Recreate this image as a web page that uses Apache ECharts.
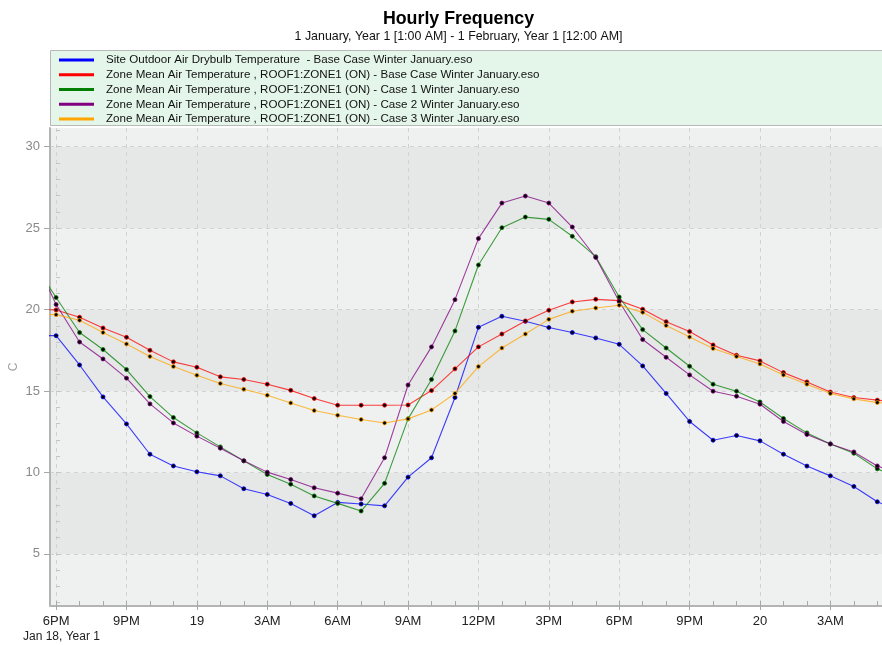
<!DOCTYPE html>
<html>
<head>
<meta charset="utf-8">
<script src="https://cdn.jsdelivr.net/npm/echarts@6/dist/echarts.min.js"></script>
<style>
  html, body { margin: 0; padding: 0; background: #ffffff; }
  #chart { width: 882px; height: 645px; }
</style>
</head>
<body>
<div id="chart"></div>
<script>
// Hours counted from 6PM on Jan 18 (one point before and after the visible window)
const hours = [-1, 0, 1, 2, 3, 4, 5, 6, 7, 8, 9, 10, 11, 12, 13, 14, 15, 16, 17, 18,
  19, 20, 21, 22, 23, 24, 25, 26, 27, 28, 29, 30, 31, 32, 33, 34, 35, 36];

// Labels of the 3-hourly major ticks, starting at 6PM Jan 18
const tickLabels = ['6PM', '9PM', '19', '3AM', '6AM', '9AM', '12PM', '3PM', '6PM', '9PM', '20', '3AM'];

// Temperature ticks (major, labelled) and minor ticks, in °C
const yTicks = [5, 10, 15, 20, 25, 30];
const yMinorTicks = [2, 3, 4, 5, 6, 7, 8, 9, 10, 11, 12, 13, 14, 15, 16, 17, 18, 19, 20,
  21, 22, 23, 24, 25, 26, 27, 28, 29, 30, 31];

const seriesNames = [
  'Site Outdoor Air Drybulb Temperature  - Base Case Winter January.eso',
  'Zone Mean Air Temperature , ROOF1:ZONE1 (ON) - Base Case Winter January.eso',
  'Zone Mean Air Temperature , ROOF1:ZONE1 (ON) - Case 1 Winter January.eso',
  'Zone Mean Air Temperature , ROOF1:ZONE1 (ON) - Case 2 Winter January.eso',
  'Zone Mean Air Temperature , ROOF1:ZONE1 (ON) - Case 3 Winter January.eso'
];

const outdoorDrybulb = [18.4, 18.40, 16.60, 14.64, 12.98, 11.12, 10.40, 10.04, 9.79, 9.00, 8.65, 8.10,
  7.34, 8.16, 8.06, 7.95, 9.71, 10.90, 14.60, 18.91, 19.59, 19.28, 18.90, 18.59, 18.26, 17.87,
  16.54, 14.85, 13.13, 11.98, 12.27, 11.94, 11.12, 10.39, 9.79, 9.14, 8.20, 7.6];

const zoneBaseCase = [20.0, 19.98, 19.53, 18.87, 18.30, 17.50, 16.79, 16.46, 15.87, 15.71, 15.42, 15.04,
  14.54, 14.13, 14.13, 14.13, 14.14, 15.03, 16.36, 17.71, 18.50, 19.30, 19.96, 20.47, 20.63, 20.55,
  20.02, 19.26, 18.65, 17.83, 17.20, 16.85, 16.13, 15.56, 14.94, 14.60, 14.44, 14.3];

const zoneCase1 = [23.0, 20.74, 18.59, 17.55, 16.32, 14.66, 13.37, 12.43, 11.57, 10.71, 9.88, 9.28,
  8.56, 8.10, 7.63, 9.33, 13.29, 15.71, 18.69, 22.74, 25.03, 25.68, 25.54, 24.50, 23.25, 20.77,
  18.77, 17.64, 16.52, 15.42, 14.99, 14.33, 13.31, 12.43, 11.75, 11.18, 10.22, 9.6];

const zoneCase2 = [23.4, 20.31, 18.01, 16.97, 15.79, 14.21, 13.04, 12.23, 11.49, 10.72, 10.02, 9.57,
  9.06, 8.73, 8.38, 10.90, 15.37, 17.71, 20.61, 24.36, 26.54, 26.97, 26.54, 25.07, 23.20, 20.50,
  18.16, 17.07, 15.99, 14.99, 14.68, 14.19, 13.13, 12.33, 11.75, 11.26, 10.40, 9.9];

const zoneCase3 = [19.7, 19.69, 19.34, 18.59, 17.89, 17.12, 16.50, 15.97, 15.46, 15.11, 14.74, 14.27,
  13.80, 13.51, 13.25, 13.04, 13.29, 13.84, 14.85, 16.50, 17.64, 18.50, 19.40, 19.90, 20.10, 20.27,
  19.83, 19.02, 18.32, 17.61, 17.12, 16.66, 15.99, 15.42, 14.85, 14.52, 14.29, 14.2];

const seriesValues = [outdoorDrybulb, zoneBaseCase, zoneCase1, zoneCase2, zoneCase3];
const seriesColors = ['#0000ff', '#ff0000', '#008000', '#800080', '#ffa500'];

const X_MIN = -0.26, X_MAX = 35.2;
const Y_MIN = 1.8, Y_MAX = 31.15;
const FONT = '"Liberation Sans", Arial, sans-serif';

// Major tick positions (every 3 h) and hourly minor ticks inside the window
const xMajorTicks = tickLabels.map((_, k) => k * 3);
const xMinorTicks = hours.filter((h) => h >= X_MIN && h <= X_MAX);

const chart = echarts.init(document.getElementById('chart'), null, { renderer: 'canvas' });

const series = seriesNames.map((name, i) => ({
  name: name,
  type: 'line',
  xAxisIndex: 0,
  yAxisIndex: 0,
  data: hours.map((h, k) => [h, seriesValues[i][k]]),
  symbol: 'circle',
  symbolSize: 4,
  clip: true,
  lineStyle: { color: seriesColors[i], width: 1.1, opacity: 0.75 },
  itemStyle: { color: '#000000', borderColor: seriesColors[i], borderWidth: 0.8 },
  emphasis: { disabled: true },
  z: 2
}));

chart.setOption({
  animation: false,
  backgroundColor: '#ffffff',
  textStyle: { fontFamily: FONT },
  grid: {
    left: 50, right: 0, top: 128, bottom: 39, containLabel: false, outerBoundsMode: 'none',
    show: true, backgroundColor: '#eff0f0', borderWidth: 0
  },
  legend: {
    orient: 'vertical',
    left: 59,
    top: 52.5,
    icon: 'rect',
    itemWidth: 35,
    itemHeight: 3,
    itemGap: 0,
    padding: 0,
    z: 10,
    selectedMode: false,
    textStyle: { fontFamily: FONT, fontSize: 11.6, color: '#111111', lineHeight: 14.8, padding: [0, 0, 0, 7] },
    data: seriesNames.map((n, i) => ({ name: n, itemStyle: { color: seriesColors[i], borderWidth: 0 } }))
  },
  graphic: [
    {
      type: 'rect', z: 5,
      shape: { x: 50.5, y: 50.5, width: 840, height: 75 },
      style: { fill: '#e4f5ea', stroke: '#b8b8b8', lineWidth: 1 }
    },
    {
      type: 'text', z: 5, x: 458.5, y: 19,
      style: { text: 'Hourly Frequency', font: 'bold 17.8px ' + FONT, fill: '#000000', align: 'center', verticalAlign: 'middle' }
    },
    {
      type: 'text', z: 5, x: 458.5, y: 37,
      style: { text: '1 January, Year 1 [1:00 AM] - 1 February, Year 1 [12:00 AM]', font: '12.4px ' + FONT, fill: '#111111', align: 'center', verticalAlign: 'middle' }
    },
    {
      type: 'text', z: 5, x: 23, y: 637,
      style: { text: 'Jan 18, Year 1', font: '12px ' + FONT, fill: '#222222', align: 'left', verticalAlign: 'middle' }
    }
  ],
  xAxis: [
    {
      type: 'value', min: X_MIN, max: X_MAX,
      axisLine: { show: true, onZero: false, lineStyle: { color: '#b4b4b4', width: 2 } },
      axisTick: { show: true, inside: false, length: 4, customValues: xMajorTicks, lineStyle: { color: '#a8a8a8' } },
      axisLabel: {
        show: true, margin: 9, fontSize: 13, color: '#222222', fontFamily: FONT,
        customValues: xMajorTicks,
        formatter: (v) => tickLabels[Math.round(v / 3)] || ''
      },
      splitLine: { show: true, lineStyle: { color: '#d2d2d2', type: [4, 4], width: 1 } }
    },
    {
      type: 'value', min: X_MIN, max: X_MAX, position: 'bottom',
      axisLine: { show: false },
      axisTick: { show: true, inside: true, length: 5, customValues: xMinorTicks, lineStyle: { color: '#a8a8a8' } },
      axisLabel: { show: false },
      splitLine: { show: false }
    }
  ],
  yAxis: [
    {
      type: 'value', min: Y_MIN, max: Y_MAX,
      name: 'C', nameLocation: 'middle', nameGap: 30, nameRotate: 90, nameMoveOverlap: false,
      nameTextStyle: { color: '#a0a0a0', fontSize: 12, fontFamily: FONT },
      axisLine: { show: true, onZero: false, lineStyle: { color: '#b4b4b4', width: 2 } },
      axisTick: { show: true, inside: false, length: 6, customValues: yTicks, lineStyle: { color: '#a8a8a8' } },
      axisLabel: {
        show: true, margin: 10, fontSize: 13, color: '#8a8a8a', fontFamily: FONT,
        customValues: yTicks,
        formatter: (v) => String(v)
      },
      splitLine: { show: true, lineStyle: { color: '#d2d2d2', type: [4, 4], width: 1 } },
      splitArea: { show: true, areaStyle: { color: ['#e6e7e7', '#eff0f0'] } }
    },
    {
      type: 'value', min: Y_MIN, max: Y_MAX, position: 'left',
      axisLine: { show: false },
      axisTick: { show: true, inside: true, length: 4, customValues: yMinorTicks, lineStyle: { color: '#c4c4c4' } },
      axisLabel: { show: false },
      splitLine: { show: false }
    }
  ],
  series: series
});
</script>
</body>
</html>
